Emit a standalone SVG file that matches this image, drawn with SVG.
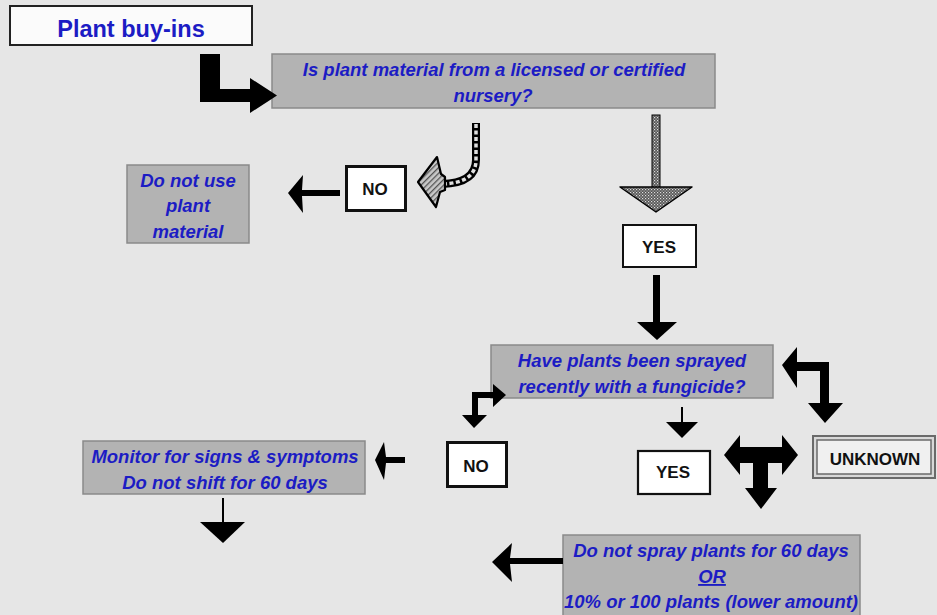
<svg xmlns="http://www.w3.org/2000/svg" width="937" height="615" viewBox="0 0 937 615">
  <style>
    .q { fill: #b3b3b3; stroke: #8a8a8a; stroke-width: 1.5; }
    .qt { font-family: "Liberation Sans", Arial, sans-serif; font-weight: bold; font-style: italic; font-size: 18.5px; fill: #1c1cc4; text-anchor: middle; }
    .lb { fill: #ffffff; stroke: #111; }
    .lt { font-family: "Liberation Sans", Arial, sans-serif; font-weight: bold; font-size: 17px; fill: #111; text-anchor: middle; }
    .ar { fill: #000; }
  </style>
  <defs>
    <pattern id="stip" width="3" height="3" patternUnits="userSpaceOnUse">
      <rect width="3" height="3" fill="#555"/>
      <rect x="0" y="0" width="1.2" height="1.2" fill="#ddd"/>
      <rect x="1.5" y="1.5" width="1.2" height="1.2" fill="#bbb"/>
    </pattern>
    <pattern id="hatch" width="4" height="4" patternUnits="userSpaceOnUse" patternTransform="rotate(45)">
      <rect width="4" height="4" fill="#c8c8c8"/>
      <rect width="1.3" height="4" fill="#555"/>
    </pattern>
  </defs>
  <rect width="937" height="615" fill="#e6e6e6"/>

  <g id="start">
    <rect x="10" y="6" width="242" height="39" fill="#fbfbfb" stroke="#222" stroke-width="2"/>
    <text x="131" y="37" font-family="Liberation Sans, Arial, sans-serif" font-weight="bold" font-size="23.5" fill="#1c1cc4" text-anchor="middle">Plant buy-ins</text>
  </g>

  <g id="q1">
    <rect class="q" x="272" y="54" width="443" height="54"/>
    <text class="qt" x="494" y="76">Is plant material from a licensed or certified</text>
    <text class="qt" x="493" y="102">nursery?</text>
  </g>

  <g id="no1">
    <rect class="lb" x="346.5" y="166.5" width="59" height="44" stroke-width="3"/>
    <text class="lt" x="375" y="195">NO</text>
  </g>

  <g id="donotuse">
    <rect class="q" x="127" y="165" width="122" height="78"/>
    <text class="qt" x="188" y="187">Do not use</text>
    <text class="qt" x="188" y="212">plant</text>
    <text class="qt" x="188" y="238">material</text>
  </g>

  <g id="yes1">
    <rect class="lb" x="623" y="225" width="73" height="42" stroke-width="2"/>
    <text class="lt" x="659" y="253">YES</text>
  </g>

  <g id="q2">
    <rect class="q" x="491" y="345" width="282" height="53"/>
    <text class="qt" x="632" y="367">Have plants been sprayed</text>
    <text class="qt" x="632" y="393">recently with a fungicide?</text>
  </g>

  <g id="no2">
    <rect class="lb" x="447.5" y="442.5" width="59" height="44" stroke-width="3"/>
    <text class="lt" x="476" y="472">NO</text>
  </g>

  <g id="yes2">
    <rect class="lb" x="638" y="451" width="72" height="43" stroke-width="2.2"/>
    <text class="lt" x="673" y="478">YES</text>
  </g>

  <g id="unknown">
    <rect x="813" y="436" width="122" height="42" fill="#d8d8d8" stroke="#6a6a6a" stroke-width="2"/>
    <rect x="817" y="440" width="114" height="34" fill="#f0f0f0" stroke="#6a6a6a" stroke-width="1.5"/>
    <text class="lt" x="875" y="465">UNKNOWN</text>
  </g>

  <g id="monitor">
    <rect class="q" x="83" y="441" width="282" height="53"/>
    <text class="qt" x="225" y="463">Monitor for signs &amp; symptoms</text>
    <text class="qt" x="225" y="489">Do not shift for 60 days</text>
  </g>

  <g id="nospray">
    <rect class="q" x="563" y="535" width="297" height="82"/>
    <text class="qt" x="711" y="557">Do not spray plants for 60 days</text>
    <text class="qt" x="712" y="583" text-decoration="underline">OR</text>
    <text class="qt" x="711" y="608">10% or 100 plants (lower amount)</text>
  </g>

  <g id="connectors">
    <!-- start to q1 elbow -->
    <polygon class="ar" points="200,54 220,54 220,89 250,89 250,78 277,95.5 250,113 250,102 200,102"/>
    <!-- curved hatched arrow q1 to NO -->
    <path d="M476,123 L476,160 Q476,183 442,184" fill="none" stroke="#000" stroke-width="8"/>
    <path d="M476,124 L476,160 Q476,183 442,184" fill="none" stroke="#e0e0e0" stroke-width="3.5" stroke-dasharray="4 2.5"/>
    <polygon points="437,157 418,182 436,207 440,192 445,190 445,177 441,174" fill="url(#hatch)" stroke="#000" stroke-width="2.2" stroke-linejoin="round"/>
    <!-- NO to do not use -->
    <polygon class="ar" points="288,193 303,175 302,190 340,190 340,196 302,196 303,213"/>
    <!-- big hatched down arrow -->
    <rect x="652" y="115" width="8" height="73" fill="url(#stip)" stroke="#000" stroke-width="1"/>
    <polygon points="620,187 692,187 656,212" fill="url(#stip)" stroke="#000" stroke-width="1.5" stroke-linejoin="round"/>
    <!-- YES to q2 -->
    <rect class="ar" x="653" y="275" width="7" height="48"/>
    <polygon class="ar" points="637,322 677,322 657,340"/>
    <!-- q2 <-> unknown elbow -->
    <polygon class="ar" points="782,365 797,347 797,362 829,362 829,403 843,403 825,423 808,403 820,403 820,371 797,371 797,388"/>
    <!-- q2 to NO2 elbow -->
    <polygon class="ar" points="506,395 493,384 493,392 472,392 472,415 462,415 474,428 487,415 478,415 478,398 493,398 493,407"/>
    <!-- q2 to YES2 -->
    <line x1="682" y1="407" x2="682" y2="423" stroke="#000" stroke-width="2"/>
    <polygon class="ar" points="666,422 698,422 682,438"/>
    <!-- T arrow -->
    <polygon class="ar" points="724,455 740,435 740,447 782,447 782,435 798,455 782,475 782,463 768,463 768,488 777,488 761,509 745,488 753,488 753,463 740,463 740,475"/>
    <!-- NO2 to monitor -->
    <polygon class="ar" points="375,460 384,442 386,457 405,457 405,463 386,463 384,480"/>
    <!-- monitor down -->
    <line x1="223" y1="498" x2="223" y2="523" stroke="#000" stroke-width="2"/>
    <polygon class="ar" points="200,522 245,522 223,543"/>
    <!-- nospray left -->
    <polygon class="ar" points="492,562 512,543 510,558 563,558 563,564 510,564 512,582"/>
  </g>
</svg>
